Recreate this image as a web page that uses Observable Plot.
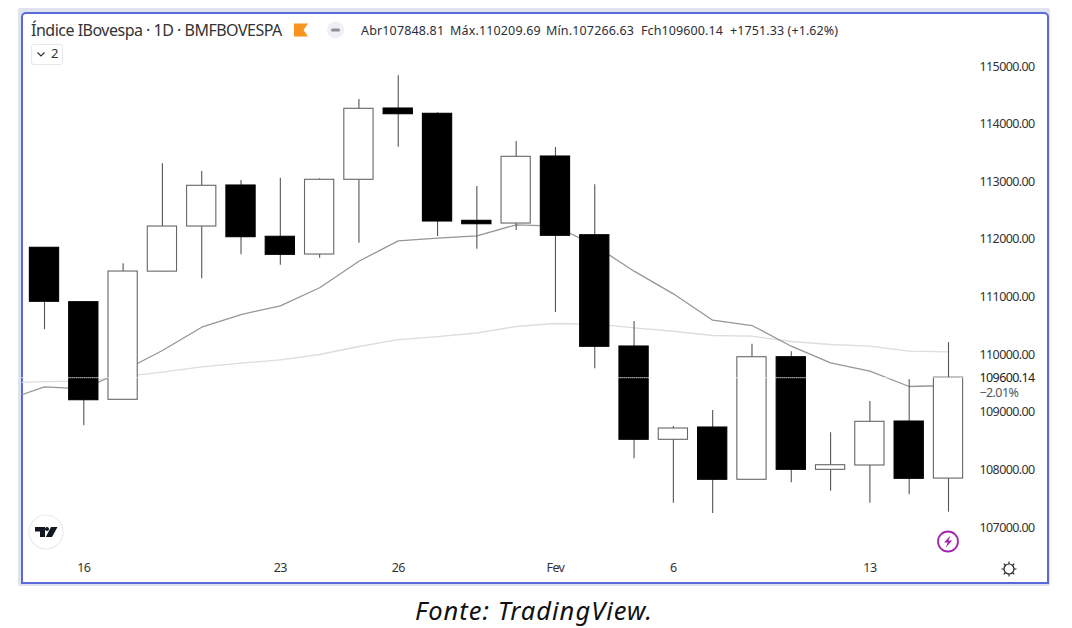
<!DOCTYPE html>
<html lang="pt">
<head>
<meta charset="utf-8">
<script src="https://cdn.jsdelivr.net/npm/d3@7"></script>
<script src="https://cdn.jsdelivr.net/npm/@observablehq/plot@0.6"></script>
<style>
html,body{margin:0;padding:0;background:#fff;overflow:hidden;}
#stage{position:relative;width:1072px;height:590px;overflow:hidden;background:#fff;font-family:"Noto Sans",sans-serif;}
#grey{position:absolute;left:18px;top:8px;width:1032px;height:578px;background:#dfe3f0;border-radius:2px;}
#panel{position:absolute;left:21px;top:12px;width:1024px;height:567.5px;background:#fff;border:2px solid #5a6ad8;border-radius:5px 5px 0 0;}
#plot svg text{letter-spacing:-.6px;}
#stage svg.plot-host{position:absolute;left:0;top:0;}
.t{position:absolute;white-space:nowrap;color:#2a2e39;line-height:1;}
#title{left:31px;top:22px;font-size:16px;letter-spacing:-.5px;color:#333;}
.o{top:24.5px;font-size:12.5px;color:#2a2e39;}
#btn{position:absolute;left:31px;top:44px;width:30px;height:19px;border:1px solid #e6e8ee;border-radius:3px;}
#btn2{position:absolute;left:51px;top:47px;font-size:13px;color:#333;line-height:1;}
svg.icon{position:absolute;left:0;top:0;pointer-events:none;}
#caption{position:relative;left:-2px;top:1px;width:1072px;height:36px;text-align:center;font-family:"Noto Sans",sans-serif;font-style:italic;font-size:25.5px;letter-spacing:1px;line-height:38px;color:#111;}
</style>
</head>
<body>
<div id="stage">
  <div id="grey"></div>
  <div id="panel"></div>
  <div id="plot"></div>
  <div class="t" id="title">Índice IBovespa · 1D · BMFBOVESPA</div>
  <div class="t o" style="left:361px;letter-spacing:.15px">Abr107848.81</div>
  <div class="t o" style="left:450px;letter-spacing:.15px">Máx.110209.69</div>
  <div class="t o" style="left:546px;letter-spacing:.15px">Mín.107266.63</div>
  <div class="t o" style="left:641px;letter-spacing:.1px">Fch109600.14</div>
  <div class="t o" style="left:730px;letter-spacing:.1px">+1751.33 (+1.62%)</div>
  <div id="btn"></div>
  <div id="btn2">2</div>
  <svg class="icon" width="1072" height="590">
    <path d="M294 23.5H308L303.5 30L308 36.5H294Z" fill="#f7931e"/>
    <circle cx="335.5" cy="30" r="8.5" fill="#eef0f6"/>
    <rect x="331" y="28.5" width="9" height="3" rx="1.5" fill="#8c8f99"/>
    <path d="M37.5 52.5L41 56L44.5 52.5" fill="none" stroke="#333" stroke-width="1.2"/>
    <circle cx="46" cy="532" r="17" fill="#fff" stroke="#ececec" stroke-width="1.2"/>
    <path d="M35 527H45V537H40V531.5H35Z M47 527a2 2 0 1 0 .01 0Z M51 527H57.5L52 537H45.8Z" fill="#131722"/>
    <circle cx="948" cy="541.5" r="10" fill="#fff" stroke="#a226ad" stroke-width="1.8"/>
    <path d="M950.5 535.5L944 542.5H947.7L945.8 547.5L952.2 540.5H948.5Z" fill="#a226ad"/>
    <circle cx="1009" cy="569" r="5" fill="none" stroke="#222" stroke-width="1.2"/>
    <path d="M1009 561.5V564M1009 574V576.5M1001.5 569H1004M1014 569H1016.5M1003.7 563.7L1005.5 565.5M1012.5 572.5L1014.3 574.3M1003.7 574.3L1005.5 572.5M1012.5 565.5L1014.3 563.7" stroke="#222" stroke-width="1.1"/>
  </svg>
</div>
<div id="caption">Fonte: TradingView.</div>
<script>
const open  = [111854,110910,109216,111440,112223,112935,112045,111737,113034,114271,114179,112322,112275,113438,112072,110141,108522,108735,107828,109955,108001,108076,108839,107848.81];
const close = [110917,109209,111442,112223,112930,112038,111732,113034,114266,114172,112310,112263,113433,112062,110136,108522,108718,107828,109955,108001,108081,108834,107845,109600.14];
const high  = [111854,110910,111576,113311,113178,113022,113062,113051,114427,114839,114197,112918,113698,113594,112947,110575,108753,109030,110181,110049,108643,109186,109563,110209.69];
const low   = [110431,108765,109216,111440,111316,111732,111552,111673,111934,113600,112050,111829,112154,110731,109754,108192,107421,107243,107828,107775,107630,107421,107567,107266.63];
const maIndex = [-1,0,1,2,3,4,5,6,7,8,9,10,11,12,13,14,15,16,17,18,19,20,21,22,23];
const maFast = [109204,109442,109407,109716,110071,110476,110696,110847,111160,111621,111975,112020,112062,112253,112229,111894,111448,111055,110597,110505,110146,109858,109712,109447,109464];
const maSlow = [109507,109533,109539,109620,109695,109789,109851,109910,110002,110141,110262,110314,110375,110488,110540,110535,110465,110406,110332,110320,110228,110176,110146,110059,110049];
const yTicks = [107000,108000,109000,110000,111000,112000,113000,114000,115000];
const xTicks = [1,6,9,13,16,21];
const xLabels = ["16","23","26","Fev","6","13"];
const lastClose = 109600.14;
const lastChange = "\u22122.01%";

const candles = open.map((o,i)=>({i,o,c:close[i],h:high[i],l:low[i]}));
const fast = maIndex.map((i,k)=>({i,v:maFast[k]}));
const slow = maIndex.map((i,k)=>({i,v:maSlow[k]}));
const half = 0.372;

const chart = Plot.plot({
  width:1072, height:590,
  marginLeft:22, marginRight:97, marginTop:14, marginBottom:30,
  style:{background:"transparent",fontFamily:"'Noto Sans',sans-serif",fontSize:"12.5px",color:"#2a2e39"},
  x:{type:"linear",domain:[0,23],range:[44,948]},
  y:{type:"linear",domain:[107000,115000],range:[527,66]},
  marks:[
    Plot.line(slow,{x:"i",y:"v",stroke:"#dcdce2",strokeWidth:1.3,clip:"frame"}),
    Plot.line(fast,{x:"i",y:"v",stroke:"#969696",strokeWidth:1.3,clip:"frame"}),
    Plot.ruleX(candles,{x:"i",y1:"l",y2:"h",stroke:"#555",strokeWidth:1.1}),
    Plot.rect(candles,{
      x1:d=>d.i-half,x2:d=>d.i+half,y1:"o",y2:"c",
      fill:d=>d.c<d.o?"#000":"#fff",
      stroke:d=>d.c<d.o?"#000":"#666",strokeWidth:1.1
    }),
    Plot.ruleY([lastClose],{x1:-0.57,x2:23.38,stroke:"#fff",strokeWidth:1.1,strokeDasharray:"1,1"}),
    Plot.axisY({anchor:"right",ticks:yTicks,tickSize:0,tickPadding:4,tickFormat:d=>d.toFixed(2),fill:"#333",label:null}),
    Plot.axisX({anchor:"bottom",ticks:xTicks,tickSize:0,tickPadding:3,tickFormat:d=>xLabels[xTicks.indexOf(d)],fill:"#333",label:null}),
    Plot.text([lastClose],{y:d=>d,text:d=>d.toFixed(2),frameAnchor:"right",textAnchor:"start",dx:4,fill:"#222"}),
    Plot.text([lastClose],{y:d=>d,text:()=>lastChange,frameAnchor:"right",textAnchor:"start",dx:4,dy:15,fill:"#555"})
  ]
});
chart.classList.add("plot-host");
document.getElementById("plot").appendChild(chart);
</script>
</body>
</html>
